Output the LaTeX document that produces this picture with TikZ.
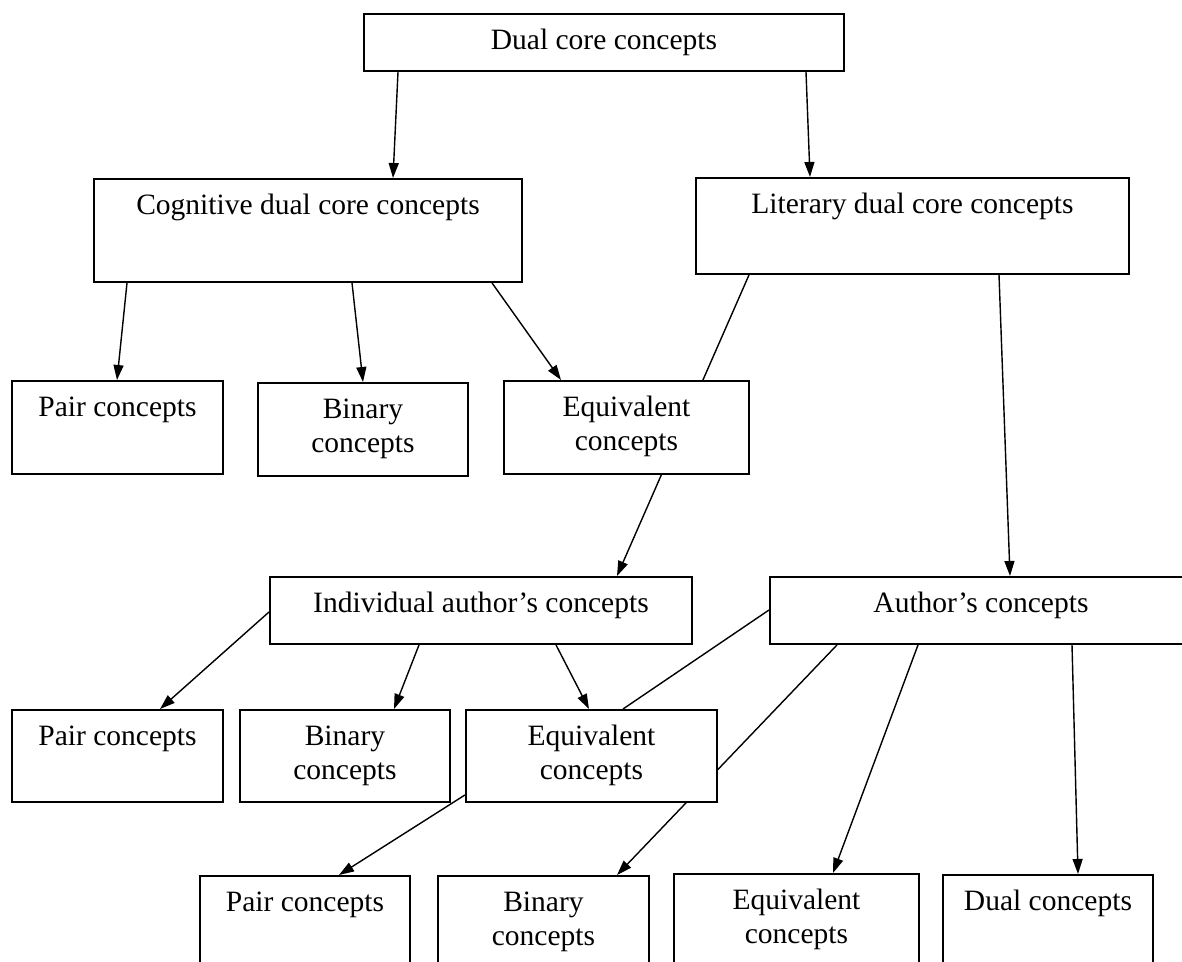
\documentclass[tikz,border=0pt]{standalone}
\usepackage{fontspec}
\setmainfont{Liberation Serif}
\usetikzlibrary{arrows.meta,calc,backgrounds}
\newlength\px
\setlength\px{0.02cm}
\newcommand\bxtext[3]{\begin{minipage}[t][#2\px][t]{#1\px}\centering\rule{0pt}{36\px}#3\end{minipage}}
\tikzset{
  box/.style={draw, fill=white, line width=1.1pt, inner sep=0pt, anchor=north west,
    font=\fontsize{16.8pt}{19.35pt}\selectfont},
  conn/.style={line width=0.8pt, -{Triangle[length=0.3cm,width=0.2cm]}},
  plainline/.style={line width=0.8pt}
}
\begin{document}
\begin{tikzpicture}[x=0.02cm, y=-0.02cm]
\clip (0,0) rectangle (1182,962);
% level 0
\node[box] (top) at (363,13) {\bxtext{480}{57}{Dual core concepts}};
% level 1
\node[box] (cog) at (93,178) {\bxtext{428}{103}{Cognitive dual core concepts}};
\node[box] (lit) at (695,177) {\bxtext{433}{96}{Literary dual core concepts}};
% level 2
\node[box] (pair1) at (11,380) {\bxtext{211}{93}{Pair concepts}};
\node[box] (bin1) at (257,382) {\bxtext{210}{93}{Binary\\concepts}};
\node[box] (eq1) at (503,380) {\bxtext{245}{93}{Equivalent\\concepts}};
% level 3
\node[box] (ind) at (269,576) {\bxtext{422}{67}{Individual author’s concepts}};
\node[box] (auth) at (769,576) {\bxtext{422}{67}{Author’s concepts}};
% level 4
\node[box] (pair2) at (11,709) {\bxtext{211}{92}{Pair concepts}};
\node[box] (bin2) at (239,709) {\bxtext{210}{92}{Binary\\concepts}};
\node[box] (eq2) at (465,709) {\bxtext{251}{92}{Equivalent\\concepts}};
% level 5
\node[box] (pair3) at (199,875) {\bxtext{210}{100}{Pair concepts}};
\node[box] (bin3) at (437,875) {\bxtext{211}{100}{Binary\\concepts}};
\node[box] (eq3) at (673,873) {\bxtext{245}{100}{Equivalent\\concepts}};
\node[box] (dual) at (942,874) {\bxtext{210}{100}{Dual concepts}};
\begin{scope}[on background layer]
\fill[white] (0,0) rectangle (1182,962);
\draw[conn] ($(top.south west)+(35,0)$) -- ($(cog.north west)+(300,0)$);
\draw[conn] ($(top.south west)+(443,0)$) -- ($(lit.north west)+(115,0)$);
\draw[conn] ($(cog.south west)+(34,0)$) -- ($(pair1.north west)+(106,0)$);
\draw[conn] ($(cog.south west)+(259,0)$) -- ($(bin1.north west)+(106,0)$);
\draw[conn] ($(cog.south west)+(399,0)$) -- ($(eq1.north west)+(58,0)$);
\draw[conn] ($(lit.south west)+(54,0)$) -- ($(ind.north west)+(348,0)$);
\draw[conn] ($(lit.south west)+(304,0)$) -- ($(auth.north west)+(241,0)$);
\draw[conn] ($(ind.north west)+(0,36)$) -- ($(pair2.north west)+(149,0)$);
\draw[conn] ($(ind.south west)+(150,0)$) -- ($(bin2.north west)+(155,0)$);
\draw[conn] ($(ind.south west)+(287,0)$) -- ($(eq2.north west)+(124,0)$);
\draw[plainline] ($(auth.north west)+(0,34)$) -- ($(eq2.north west)+(158,0)$);
\draw[conn] ($(auth.south west)+(68,0)$) -- ($(bin3.north west)+(180,0)$);
\draw[conn] ($(eq2.south west)+(0,-8)$) -- ($(pair3.north west)+(140,0)$);
\draw[conn] ($(auth.south west)+(149,0)$) -- ($(eq3.north west)+(160,0)$);
\draw[conn] ($(auth.south west)+(303,0)$) -- ($(dual.north west)+(136,0)$);
\end{scope}
\end{tikzpicture}
\end{document}
